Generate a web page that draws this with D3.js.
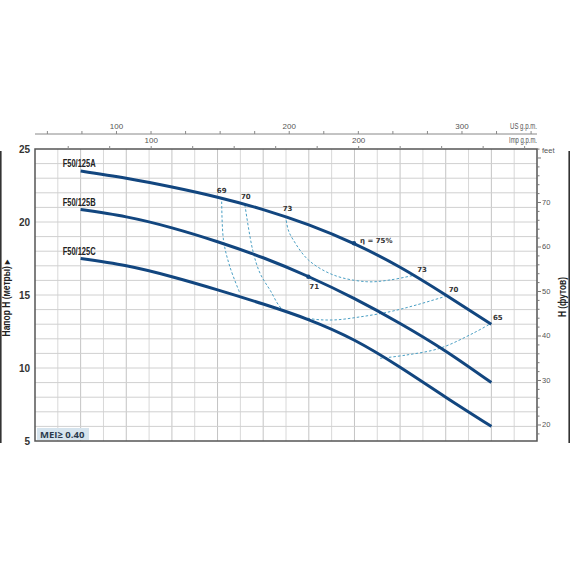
<!DOCTYPE html>
<html>
<head>
<meta charset="utf-8">
<script src="https://cdn.jsdelivr.net/npm/d3@7"></script>
<style>
  body { margin: 0; background: #fff; }
  svg { display: block; }
</style>
</head>
<body>
<script>
// ************ data (flow in l/min, head in metres) ************
var flow  = [300, 400, 500, 600, 700, 800, 900, 1000, 1100, 1200];
var headA = [23.5, 23.0, 22.4, 21.7, 20.85, 19.8, 18.5, 16.9, 15.0, 13.0];
var headB = [20.85, 20.35, 19.6, 18.65, 17.55, 16.25, 14.75, 13.05, 11.15, 9.0];
var headC = [17.5, 17.0, 16.25, 15.35, 14.38, 13.3, 11.9, 10.05, 8.0, 6.0];
var pumpNames = ["F50/125A", "F50/125B", "F50/125C"];

// iso-efficiency lines [flow, head]
var eff69 = [[609, 21.7], [613, 18.77], [627, 16.94], [649, 15.12]];
var eff70 = [[660, 21.16], [677, 18.08], [693, 16.5], [715, 15.34], [744, 13.97], [800, 13.4],
             [853, 13.29], [912, 13.5], [978, 13.86], [1036, 14.32], [1102, 14.93]];
var eff73 = [[749, 20.41], [755, 19.45], [766, 18.77], [799, 17.4], [854, 16.37], [927, 15.91],
             [978, 16.03], [1033, 16.37]];
var eff65 = [[956, 10.66], [1014, 10.89], [1087, 11.35], [1160, 12.38], [1199, 13.05]];

// efficiency labels [flow, head, text]
var effLabels = [[609, 21.7, "69"], [662, 21.2, "70"], [749, 20.41, "73"], [899, 18.54, "η = 75%"],
                 [1033, 16.37, "73"], [1102, 14.93, "70"], [1199, 13.05, "65"], [799, 16.25, "71"]];
var effDots = [[899, 18.54], [799, 16.25]];

var usTicks  = d3.range(60, 341, 20);
var usLabels = [100, 200, 300];
var impTicks = d3.range(60, 281, 20);
var impLabels = [100, 200];
var mTicks = [5, 10, 15, 20, 25];
var ftTicks = d3.range(18, 83, 2);
var ftLabels = [20, 30, 40, 50, 60, 70];

// ************ layout ************
var width = 570, height = 570;
var pLeft = 35, pRight = 537, pTop = 149, pBottom = 441;
var curveColor = "#12467f";
var effColor = "#4a9fc4";
var narrow = "'Liberation Sans Narrow', 'Arial Narrow', 'Liberation Sans', sans-serif";

var svg = d3.select("body").append("svg")
    .attr("width", width)
    .attr("height", height);

var x = d3.scaleLinear().domain([200, 1300]).range([pLeft, pRight]);
var y = d3.scaleLinear().domain([5, 25]).range([pBottom, pTop]);
var xUS = d3.scaleLinear().domain([200 / 3.78541, 1300 / 3.78541]).range([pLeft, pRight]);
var xImp = d3.scaleLinear().domain([200 / 4.54609, 1300 / 4.54609]).range([pLeft, pRight]);
var yFt = d3.scaleLinear().domain([5 / 0.3048, 25 / 0.3048]).range([pBottom, pTop]);

// ************ grid ************
svg.append("g").selectAll("line")
    .data(d3.range(250, 1300, 50))
    .enter().append("line")
    .attr("x1", d => x(d)).attr("x2", d => x(d))
    .attr("y1", pTop).attr("y2", pBottom)
    .attr("stroke", d => d % 100 == 0 ? "#c4c4c4" : "#d8d8d8")
    .attr("stroke-width", 1);

svg.append("g").selectAll("line")
    .data(d3.range(6, 25, 1))
    .enter().append("line")
    .attr("x1", pLeft).attr("x2", pRight)
    .attr("y1", d => y(d)).attr("y2", d => y(d))
    .attr("stroke", "#d0d0d0")
    .attr("stroke-width", 1);

// ************ frame ************
svg.append("rect")
    .attr("x", pLeft).attr("y", pTop)
    .attr("width", pRight - pLeft).attr("height", pBottom - pTop)
    .attr("fill", "none")
    .attr("stroke", "#555")
    .attr("stroke-width", 1.5);

// page edge bars
svg.append("line").attr("x1", 0.8).attr("x2", 0.8).attr("y1", 151).attr("y2", 443)
    .attr("stroke", "#333").attr("stroke-width", 1.6);
svg.append("line").attr("x1", 569.2).attr("x2", 569.2).attr("y1", 151).attr("y2", 443)
    .attr("stroke", "#333").attr("stroke-width", 1.6);

// ************ top axes (US / Imp g.p.m.) ************
var usY = 134;
svg.append("line")
    .attr("x1", pLeft).attr("x2", pRight)
    .attr("y1", usY).attr("y2", usY)
    .attr("stroke", "#888").attr("stroke-width", 1);
svg.append("g").selectAll("line")
    .data(usTicks)
    .enter().append("line")
    .attr("x1", d => xUS(d)).attr("x2", d => xUS(d))
    .attr("y1", usY).attr("y2", usY - 3)
    .attr("stroke", "#888");
svg.append("g").selectAll("text")
    .data(usLabels)
    .enter().append("text")
    .attr("x", d => xUS(d))
    .attr("y", usY - 5)
    .attr("text-anchor", "middle")
    .attr("font-family", narrow)
    .attr("font-size", 8)
    .attr("fill", "#555")
    .text(d => d);
svg.append("text")
    .attr("x", pRight).attr("y", usY - 5)
    .attr("text-anchor", "end")
    .attr("font-family", narrow)
    .attr("font-size", 8.5)
    .attr("fill", "#555")
    .attr("textLength", 27).attr("lengthAdjust", "spacingAndGlyphs")
    .text("US g.p.m.");

svg.append("g").selectAll("line")
    .data(impTicks)
    .enter().append("line")
    .attr("x1", d => xImp(d)).attr("x2", d => xImp(d))
    .attr("y1", pTop).attr("y2", pTop - 3)
    .attr("stroke", "#888");
svg.append("g").selectAll("text")
    .data(impLabels)
    .enter().append("text")
    .attr("x", d => xImp(d))
    .attr("y", pTop - 6)
    .attr("text-anchor", "middle")
    .attr("font-family", narrow)
    .attr("font-size", 8)
    .attr("fill", "#555")
    .text(d => d);
svg.append("text")
    .attr("x", pRight).attr("y", pTop - 6)
    .attr("text-anchor", "end")
    .attr("font-family", narrow)
    .attr("font-size", 8.5)
    .attr("fill", "#555")
    .attr("textLength", 28).attr("lengthAdjust", "spacingAndGlyphs")
    .text("Imp g.p.m.");

// ************ left axis (metres) ************
svg.append("g").selectAll("text")
    .data(mTicks)
    .enter().append("text")
    .attr("x", pLeft - 5)
    .attr("y", d => y(d) + 3.5)
    .attr("text-anchor", "end")
    .attr("font-family", narrow)
    .attr("font-weight", "bold")
    .attr("font-size", 10)
    .attr("fill", "#333")
    .text(d => d);

svg.append("text")
    .attr("transform", "translate(10," + 298 + ") rotate(-90)")
    .attr("text-anchor", "middle")
    .attr("font-family", narrow)
    .attr("font-weight", "bold")
    .attr("font-size", 10)
    .attr("fill", "#222")
    .attr("textLength", 77).attr("lengthAdjust", "spacingAndGlyphs")
    .text("Напор H (метры) ▸");

// ************ right axis (feet) ************
svg.append("g").selectAll("line")
    .data(ftTicks)
    .enter().append("line")
    .attr("x1", pRight).attr("x2", d => pRight + (d % 10 == 0 ? 4 : 2.5))
    .attr("y1", d => yFt(d)).attr("y2", d => yFt(d))
    .attr("stroke", "#777");
svg.append("g").selectAll("text")
    .data(ftLabels)
    .enter().append("text")
    .attr("x", pRight + 5)
    .attr("y", d => yFt(d) + 2.5)
    .attr("font-family", narrow)
    .attr("font-size", 7.5)
    .attr("fill", "#555")
    .text(d => d);
svg.append("text")
    .attr("x", pRight + 5).attr("y", pTop + 4)
    .attr("font-family", narrow)
    .attr("font-size", 7.5)
    .attr("fill", "#555")
    .text("feet");

svg.append("text")
    .attr("transform", "translate(566," + 297 + ") rotate(-90)")
    .attr("text-anchor", "middle")
    .attr("font-family", narrow)
    .attr("font-weight", "bold")
    .attr("font-size", 10)
    .attr("fill", "#222")
    .attr("textLength", 40).attr("lengthAdjust", "spacingAndGlyphs")
    .text("H (футов)");

// ************ iso-efficiency lines ************
var effLine = d3.line()
    .x(d => x(d[0]))
    .y(d => y(d[1]))
    .curve(d3.curveCatmullRom.alpha(0.5));

svg.append("g").selectAll("path")
    .data([eff69, eff70, eff73, eff65])
    .enter().append("path")
    .attr("d", effLine)
    .attr("fill", "none")
    .attr("stroke", effColor)
    .attr("stroke-width", 1)
    .attr("stroke-dasharray", "2.5,2");

// ************ pump curves ************
var pumpLine = d3.line()
    .x((d, i) => x(flow[i]))
    .y(d => y(d))
    .curve(d3.curveNatural);

var heads = [headA, headB, headC];
svg.append("g").selectAll("path")
    .data(heads)
    .enter().append("path")
    .attr("d", pumpLine)
    .attr("fill", "none")
    .attr("stroke", curveColor)
    .attr("stroke-width", 3);

svg.append("g").selectAll("text")
    .data(heads)
    .enter().append("text")
    .attr("x", x(flow[0]) - 18)
    .attr("y", d => y(d[0]) - 4)
    .attr("font-family", narrow)
    .attr("font-weight", "bold")
    .attr("font-size", 11)
    .attr("fill", "#222")
    .attr("textLength", 33).attr("lengthAdjust", "spacingAndGlyphs")
    .text((d, i) => pumpNames[i]);

svg.append("g").selectAll("circle")
    .data(effDots)
    .enter().append("circle")
    .attr("cx", d => x(d[0]))
    .attr("cy", d => y(d[1]))
    .attr("r", 2.2)
    .attr("fill", curveColor);

// label offsets [dx, dy, anchor]
var labelPos = [[0, -4, "middle"], [0, -5, "middle"], [2, -5, "middle"], [6, 0, "start"],
                [2, -3, "start"], [2, -4, "start"], [2, -3, "start"], [1, 12, "start"]];
svg.append("g").selectAll("text")
    .data(effLabels)
    .enter().append("text")
    .attr("x", (d, i) => x(d[0]) + labelPos[i][0])
    .attr("y", (d, i) => y(d[1]) + labelPos[i][1])
    .attr("text-anchor", (d, i) => labelPos[i][2])
    .attr("font-family", "'DejaVu Sans', sans-serif")
    .attr("font-weight", "bold")
    .attr("font-size", 7)
    .attr("fill", "#333")
    .text(d => d[2]);

// ************ MEI badge ************
svg.append("rect")
    .attr("x", pLeft + 2).attr("y", pBottom - 13)
    .attr("width", 52).attr("height", 12)
    .attr("fill", "#d6e4ee");
svg.append("text")
    .attr("x", pLeft + 5).attr("y", pBottom - 3.5)
    .attr("font-family", "'Open Sans', sans-serif")
    .attr("font-weight", "bold")
    .attr("font-size", 9.5)
    .attr("fill", "#2b3a4d")
    .text("MEI≥ 0.40");
</script>
</body>
</html>
